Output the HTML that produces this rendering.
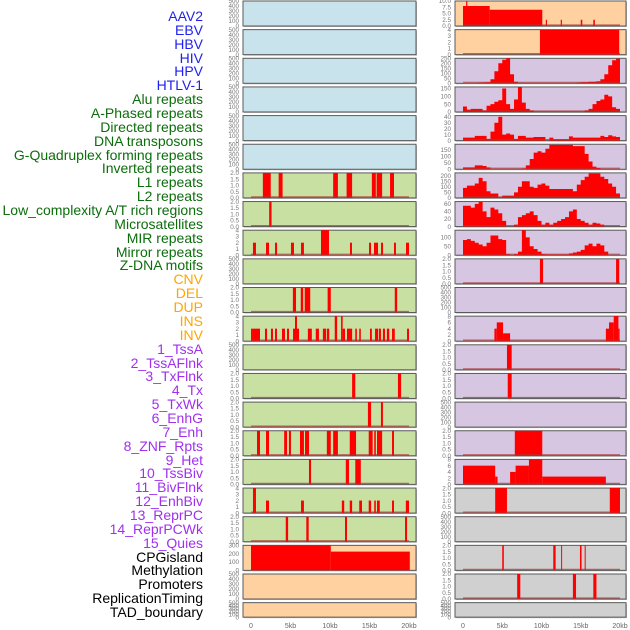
<!DOCTYPE html>
<html><head><meta charset="utf-8"><style>
html,body{margin:0;padding:0;background:#fff;}
#c{position:relative;width:630px;height:630px;overflow:hidden;font-family:"Liberation Sans",sans-serif;}
.lab{position:absolute;right:427px;font-size:14px;line-height:14px;white-space:nowrap;}
</style></head><body>
<div id="c">
<svg id="svg" width="630" height="630" style="position:absolute;left:0;top:0"></svg>
</div>
<script>
// ---- data ----
const trackLabels=["AAV2","EBV","HBV","HIV","HPV","HTLV-1","Alu repeats","A-Phased repeats","Directed repeats","DNA transposons","G-Quadruplex forming repeats","Inverted repeats","L1 repeats","L2 repeats","Low_complexity A/T rich regions","Microsatellites","MIR repeats","Mirror repeats","Z-DNA motifs","CNV","DEL","DUP","INS","INV","1_TssA","2_TssAFlnk","3_TxFlnk","4_Tx","5_TxWk","6_EnhG","7_Enh","8_ZNF_Rpts","9_Het","10_TssBiv","11_BivFlnk","12_EnhBiv","13_ReprPC","14_ReprPCWk","15_Quies","CPGisland","Methylation","Promoters","ReplicationTiming","TAD_boundary"];
const labelGroups=[6,13,5,15,5];
const groupColors=["#1f1fee","#0b6e0b","#ffa500","#a030ee","#000000"];
const xTickLabels=["0","5kb","10kb","15kb","20kb"];
const xTickValues=[0,5,10,15,20];
// bar tracks: [startKb,endKb,height]
const barsL7=[[1.5,2.5,2],[3.5,4.0,2],[10.4,11,2],[12.1,12.8,2],[15.3,15.8,2],[15.9,16.6,2],[17.6,18.1,2]];
const barsL8=[[2.3,2.6,2]];
const barsL9=[[0.25,0.63,2],[1.9,2.28,2],[3.04,3.3,2],[5.06,5.44,2],[6.33,6.7,2],[8.86,9.87,4],[12.53,12.78,2],[14.94,15.19,2],[15.57,16.08,2],[16.46,16.71,2],[18.1,18.35,2],[19.62,20,2]];
const barsL11=[[5.3,5.7,2],[6.3,6.6,2],[6.8,7.5,2],[9.7,10.1,2],[18.2,18.5,2]];
const barsL12=[[0,0.25,2],[0.25,1.14,2],[1.77,2.03,2],[2.53,2.78,2],[3.04,3.29,2],[3.92,4.3,2],[4.56,4.81,2],[5.32,6.08,2],[5.57,5.82,4],[7.2,7.7,2],[8.2,8.6,2],[9.1,9.5,2],[9.6,9.9,2],[10.6,10.9,4],[11.4,11.6,4],[11.6,11.9,2],[12.15,12.8,2],[13.2,13.4,2],[13.7,13.9,2],[15.06,15.3,2],[15.7,16.1,2],[16.2,16.45,2],[16.7,16.96,2],[17.2,17.5,2],[17.85,18.2,2],[19.75,20,2]];
const barsL14=[[12.8,13.2,2],[18.6,19.0,2]];
const barsL15=[[14.8,15.2,2],[16.45,16.7,2]];
const barsL16=[[0.76,1.14,2],[1.9,2.28,2],[4.2,4.56,2],[4.8,5.06,2],[6.2,6.7,2],[6.84,7.34,2],[9.6,10.1,2],[10.4,11,2],[12.5,13.3,2],[14.9,15.4,2],[15.6,15.8,2],[15.95,16.6,2],[17.85,18.1,2]];
const barsL17=[[7.34,7.6,2],[12.0,12.4,2],[13.2,13.9,2]];
const barsL18=[[0.25,0.63,4],[1.9,2.28,2],[6.33,6.7,2],[11.5,11.8,2],[12.5,12.8,2],[13.7,14.05,2],[14.9,15.2,2],[15.6,15.8,2],[15.95,16.3,2],[17.85,18.1,2],[19.6,20,2]];
const barsL19=[[4.4,4.7,2],[7.0,7.3,2],[11.9,12.15,2],[19.5,19.75,2]];
const barsL20=[[0,10.1,300],[10.1,20.1,225]];
const barsR1=[[0,3.4,8],[0.4,0.55,10],[3.4,10.1,6.5],[10.55,10.7,2.5],[12.45,12.6,2.5],[15.0,15.2,2.5],[16.6,16.8,2.5]];
const barsR2=[[9.8,19.9,4]];
const barsR10=[[9.8,10.2,2],[19.5,19.9,2]];
const barsR12=[[4.0,4.3,4],[4.3,5.1,6],[5.1,6.0,2.5],[18.2,18.6,4],[18.6,19.2,6],[19.2,19.8,8],[19.8,19.95,4]];
const barsR13=[[5.6,6.2,2]];
const barsR14=[[5.7,6.2,2]];
const barsR16=[[6.6,10.1,2]];
const barsR17=[[0,4.1,6],[4.1,4.4,2.5],[6.0,6.7,4],[6.7,8.4,6],[8.4,10.1,8],[10.1,18.2,2.5]];
const barsR18=[[4.1,5.6,2],[18.7,20,2]];
const barsR20=[[5.0,5.2,2],[11.5,11.8,2],[12.5,12.6,2],[14.9,15.1,2],[15.5,15.6,2]];
const barsR21=[[6.9,7.3,2],[14.0,14.4,2],[16.6,17.0,2]];
// area tracks: values every 0.5 kb from 0 to 20
const areaStepKb=0.5;
const areaR3=[0,0,0,0,5,8,10,40,120,200,235,250,90,15,0,0,0,0,0,0,0,0,0,0,0,0,0,0,0,5,10,10,15,15,20,40,90,180,230,245,250];
const areaR4=[35,15,20,20,20,10,40,50,65,75,150,50,20,80,160,60,20,10,3,3,3,3,3,3,3,3,3,3,3,3,3,10,20,50,70,80,110,100,30,20,0];
const areaR5=[5,5,5,8,8,8,3,15,30,40,10,12,10,3,8,8,5,5,6,6,6,0,5,2,2,2,2,7,5,5,5,5,5,5,5,8,6,9,7,6,0];
const areaR6=[15,15,15,30,30,25,15,0,0,0,0,0,0,0,0,5,30,80,130,140,130,160,190,190,190,190,190,190,180,180,180,120,60,20,10,0,0,0,0,0,0];
const areaR7=[90,110,110,130,180,150,60,40,40,5,20,20,20,50,100,150,150,100,90,120,130,110,80,80,80,80,80,80,60,120,160,190,220,220,220,190,170,130,100,40,10];
const areaR8=[55,55,50,60,65,40,25,50,45,35,15,0,0,5,25,30,35,40,30,15,5,10,5,10,15,20,25,40,45,20,15,10,5,10,8,5,0,0,0,0,0];
const areaR9=[85,90,80,70,60,50,70,110,110,90,85,5,0,5,20,140,100,50,35,20,5,3,3,3,3,3,3,10,15,20,30,55,65,50,65,55,20,0,0,0,0];
// ---- layout (not data) ----
const BLUE="#c8e3ec",GREEN="#c8e0a2",ORANGE="#ffd1a0",PURPLE="#d6c6e2",GRAY="#d0d0d0";
const T500=[0,100,200,300,400,500],T2=[0,0.5,1,1.5,2],T4=[0,1,2,3,4];
const T2L=["0.0","0.5","1.0","1.5","2.0"];
const leftPanels=[
 {bg:BLUE,max:500,ticks:T500},{bg:BLUE,max:500,ticks:T500},{bg:BLUE,max:500,ticks:T500},{bg:BLUE,max:500,ticks:T500},{bg:BLUE,max:500,ticks:T500},{bg:BLUE,max:500,ticks:T500},
 {bg:GREEN,max:2,ticks:T2,tl:T2L,bars:barsL7},{bg:GREEN,max:2,ticks:T2,tl:T2L,bars:barsL8},{bg:GREEN,max:4,ticks:T4,bars:barsL9},
 {bg:GREEN,max:500,ticks:T500},{bg:GREEN,max:2,ticks:T2,tl:T2L,bars:barsL11},{bg:GREEN,max:4,ticks:T4,bars:barsL12},
 {bg:GREEN,max:500,ticks:T500},{bg:GREEN,max:2,ticks:T2,tl:T2L,bars:barsL14},{bg:GREEN,max:2,ticks:T2,tl:T2L,bars:barsL15},
 {bg:GREEN,max:2,ticks:T2,tl:T2L,bars:barsL16},{bg:GREEN,max:2,ticks:T2,tl:T2L,bars:barsL17},{bg:GREEN,max:4,ticks:T4,bars:barsL18},
 {bg:GREEN,max:2,ticks:T2,tl:T2L,bars:barsL19},{bg:ORANGE,max:300,ticks:[0,100,200,300],bars:barsL20,nobase:true},
 {bg:ORANGE,max:500,ticks:T500},{bg:ORANGE,max:500,ticks:T500}];
const rightPanels=[
 {bg:ORANGE,max:10,ticks:[0,2.5,5,7.5,10],tl:["0.0","2.5","5.0","7.5","10.0"],bars:barsR1},{bg:ORANGE,max:4,ticks:T4,bars:barsR2},
 {bg:PURPLE,max:250,ticks:[0,50,100,150,200,250],area:areaR3},{bg:PURPLE,max:160,ticks:[0,50,100,150],area:areaR4},
 {bg:PURPLE,max:42,ticks:[0,10,20,30,40],area:areaR5},{bg:PURPLE,max:195,ticks:[0,50,100,150],area:areaR6},
 {bg:PURPLE,max:225,ticks:[0,50,100,150,200],area:areaR7},{bg:PURPLE,max:66,ticks:[0,20,40,60],area:areaR8},
 {bg:PURPLE,max:140,ticks:[0,50,100],area:areaR9},{bg:PURPLE,max:2,ticks:T2,tl:T2L,bars:barsR10},
 {bg:PURPLE,max:500,ticks:T500},{bg:PURPLE,max:8,ticks:[0,2,4,6,8],bars:barsR12},
 {bg:PURPLE,max:2,ticks:T2,tl:T2L,bars:barsR13},{bg:PURPLE,max:2,ticks:T2,tl:T2L,bars:barsR14},
 {bg:PURPLE,max:500,ticks:T500},{bg:PURPLE,max:2,ticks:T2,tl:T2L,bars:barsR16},
 {bg:PURPLE,max:8,ticks:[0,2,4,6,8],bars:barsR17},{bg:GRAY,max:2,ticks:T2,tl:T2L,bars:barsR18},
 {bg:GRAY,max:500,ticks:T500},{bg:GRAY,max:2,ticks:T2,tl:T2L,bars:barsR20},
 {bg:GRAY,max:2,ticks:T2,tl:T2L,bars:barsR21},{bg:GRAY,max:500,ticks:T500}];
const NS="http://www.w3.org/2000/svg";
const svg=document.getElementById('svg');
function el(tag,attrs,parent){const e=document.createElementNS(NS,tag);for(const k in attrs)e.setAttribute(k,attrs[k]);(parent||svg).appendChild(e);return e;}
const cols=[{x0:243,x1:416,zero:251,perKb:7.9,panels:leftPanels,name:'left'},{x0:455,x1:626,zero:463,perKb:7.85,panels:rightPanels,name:'right'}];
function panelTop(i){return 1+i*28.65;}
function panelH(i){return i===21?14.5:25;}
cols.forEach(col=>{
 const xs=kb=>col.zero+kb*col.perKb;
 col.panels.forEach((p,i)=>{
  const top=panelTop(i),h=panelH(i),bot=top+h;
  const ys=v=>bot-v/p.max*h;
  const g=el('g',{});
  
  
  el('rect',{x:col.x0+1,y:top+1,width:col.x1-col.x0,height:h,fill:'#bbb'},g);
  el('rect',{x:col.x0,y:top,width:col.x1-col.x0,height:h,fill:p.bg,stroke:'#5a5a5a','stroke-width':1},g);
  if(p.bars){
   p.bars.forEach(b=>{
    const r=el('rect',{x:xs(b[0]),y:ys(b[2]),width:Math.max(1,xs(b[1])-xs(b[0])),height:bot-ys(b[2]),fill:'#ff0000'},g);
    
    
   });
  }
  if(p.area){
   let d='M'+xs(0)+','+bot;
   p.area.forEach((v,k)=>{const a=xs(k*areaStepKb),b=xs(Math.min(20,(k+1)*areaStepKb));d+=' L'+a+','+ys(v)+' L'+b+','+ys(v);});
   d+=' L'+xs(20)+','+bot+' Z';
   const pa=el('path',{d:d,fill:'#ff0000'},g);
   
   
  }
  if((p.bars||p.area)&&!p.nobase){
   el('line',{x1:xs(0),x2:xs(20),y1:bot-1,y2:bot-1,stroke:'#b03030','stroke-opacity':0.7,'stroke-width':1.2},g);
  }
  p.ticks.forEach((t,k)=>{
   const tx=el('text',{x:col.x0-4,y:ys(t)+2.2,'text-anchor':'end','font-size':6.3,fill:'#777','font-family':'Liberation Sans, sans-serif'},g);
   tx.textContent=p.tl?p.tl[k]:String(t);
  });
 });
 xTickValues.forEach((v,k)=>{
  const t=el('text',{x:xs(v),y:628,'text-anchor':'middle','font-size':7,fill:'#666','font-family':'Liberation Sans, sans-serif'});
  
  
  t.textContent=xTickLabels[k];
 });
});
const c=document.getElementById('c');
let idx=0;
labelGroups.forEach((n,gi)=>{
 for(let j=0;j<n;j++){
  const d=document.createElement('div');
  d.className='lab';
  
  
  d.style.top=(9+idx*13.86)+'px';
  d.style.color=groupColors[gi];
  d.textContent=trackLabels[idx];
  c.appendChild(d);idx++;
 }
});
</script>
</body></html>
